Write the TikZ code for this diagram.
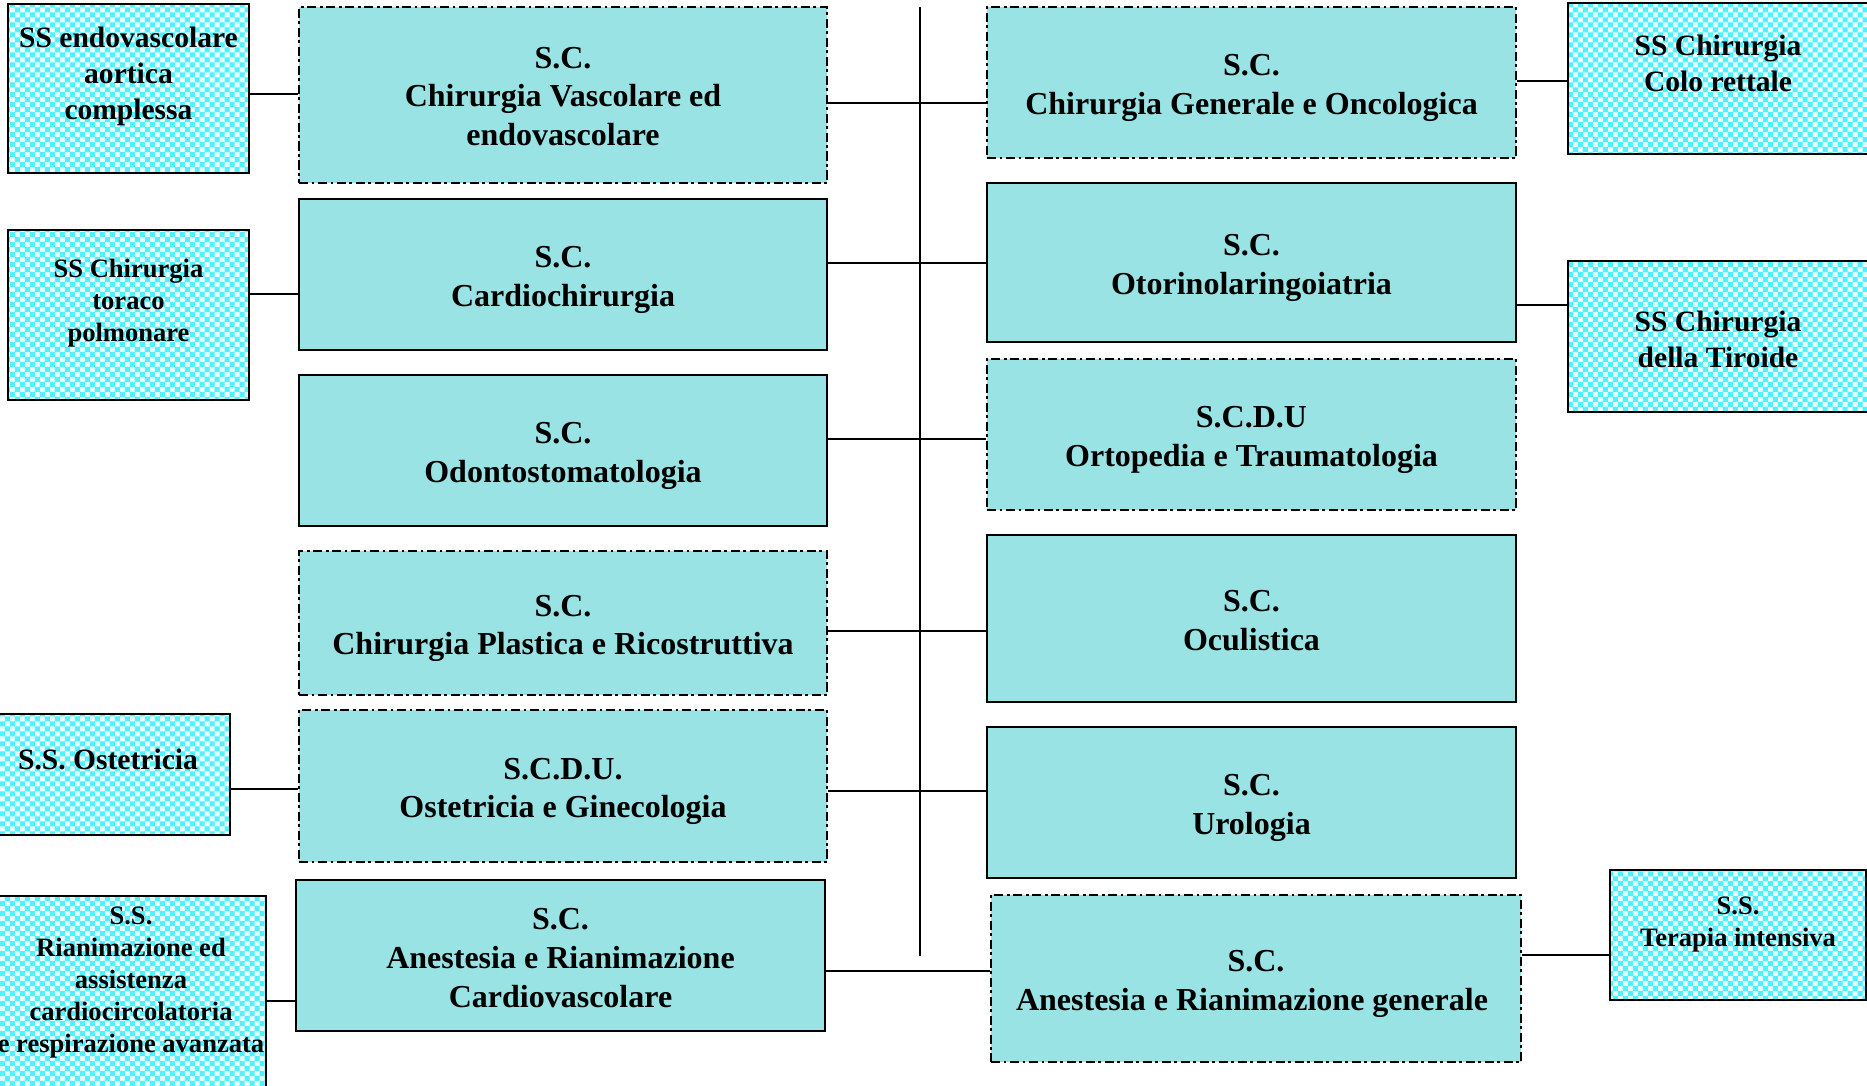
\documentclass[tikz,border=0pt]{standalone}
\usepackage{fontspec}
\setmainfont{Liberation Serif}
\usetikzlibrary{patterns}
\definecolor{sctea}{RGB}{153,227,228}
\definecolor{sscyan}{RGB}{80,242,255}
\definecolor{sslight}{RGB}{232,253,255}
\pgfdeclarepatternformonly{finechecks}{\pgfqpoint{-0.5pt}{-0.5pt}}{\pgfqpoint{3.4pt}{3.4pt}}{\pgfqpoint{2.84pt}{2.84pt}}{%
  \pgfpathrectangle{\pgfqpoint{0pt}{0pt}}{\pgfqpoint{1.42pt}{1.42pt}}%
  \pgfpathrectangle{\pgfqpoint{1.42pt}{1.42pt}}{\pgfqpoint{1.42pt}{1.42pt}}%
  \pgfusepath{fill}}
\newcommand{\lift}{\rule[-0.30cm]{0pt}{0pt}}
\newcommand{\drop}{\rule{0pt}{0.32cm}}

\begin{document}
\begin{tikzpicture}[x=0.01cm,y=-0.01cm,
    sc/.style={draw,line width=0.7pt,fill=sctea,align=center,inner sep=0pt,
      font=\fontsize{9.1}{11}\selectfont\bfseries},
    scdash/.style={sc,dash pattern=on 2.6pt off 1pt on 0.8pt off 1pt},
    ss/.style={draw,line width=0.7pt,preaction={fill=sslight},pattern=finechecks,
      pattern color=sscyan,align=center,inner sep=0pt,
      font=\fontsize{8.4}{10.2}\selectfont\bfseries},
    sssmall/.style={ss,font=\fontsize{7.55}{9.1}\selectfont\bfseries},
    link/.style={line width=0.6pt}]
   \clip (0,0) rectangle (1867,1086);
   \fill[white] (0,0) rectangle (1867,1086);
   % left column
   \node[ss,minimum width=2.41cm,minimum height=1.69cm] (endo) at (128.5,88.5)
     {SS endovascolare\\aortica\\complessa\lift};
   \node[sssmall,minimum width=2.41cm,minimum height=1.70cm] (toraco) at (128.5,315)
     {SS Chirurgia\\toraco\\polmonare\lift};
   \node[ss,minimum width=2.44cm,minimum height=1.21cm] (ssoste) at (108,774.5)
     {S.S. Ostetricia\lift};
   \node[sssmall,minimum width=2.70cm,minimum height=1.98cm] (ssrian) at (131,995)
     {S.S.\\Rianimazione ed\\assistenza\\cardiocircolatoria\\e respirazione avanzata\lift};
   % centre left
   \node[scdash,minimum width=5.28cm,minimum height=1.76cm] (vasc) at (563,95)
     {\rule{0pt}{0.24cm}S.C.\\Chirurgia Vascolare ed\\endovascolare};
   \node[sc,minimum width=5.28cm,minimum height=1.51cm] (cardio) at (563,274.5)
     {\drop S.C.\\Cardiochirurgia};
   \node[sc,minimum width=5.28cm,minimum height=1.51cm] (odonto) at (563,450.5)
     {\drop S.C.\\Odontostomatologia};
   \node[scdash,minimum width=5.28cm,minimum height=1.44cm] (plast) at (563,623)
     {\drop S.C.\\Chirurgia Plastica e Ricostruttiva};
   \node[scdash,minimum width=5.28cm,minimum height=1.52cm] (ostgin) at (563,786)
     {\drop S.C.D.U.\\Ostetricia e Ginecologia};
   \node[sc,minimum width=5.29cm,minimum height=1.51cm] (anecv) at (560.5,955.5)
     {\rule{0pt}{0.26cm}S.C.\\Anestesia e Rianimazione\\Cardiovascolare};
   % centre right
   \node[scdash,minimum width=5.29cm,minimum height=1.51cm] (gen) at (1251.5,82.5)
     {\drop S.C.\\Chirurgia Generale e Oncologica};
   \node[sc,minimum width=5.29cm,minimum height=1.59cm] (orl) at (1251.5,262.5)
     {\drop S.C.\\Otorinolaringoiatria};
   \node[scdash,minimum width=5.29cm,minimum height=1.51cm] (orto) at (1251.5,434.5)
     {\drop S.C.D.U\\Ortopedia e Traumatologia};
   \node[sc,minimum width=5.29cm,minimum height=1.67cm] (ocul) at (1251.5,618.5)
     {\rule{0pt}{0.26cm}S.C.\\Oculistica};
   \node[sc,minimum width=5.29cm,minimum height=1.51cm] (uro) at (1251.5,802.5)
     {\drop S.C.\\Urologia};
   \node[scdash,minimum width=5.30cm,minimum height=1.67cm] (anegen) at (1256,978.5)
     {\drop S.C.\\Anestesia e Rianimazione generale\hspace*{0.08cm}};
   % right column
   \node[ss,minimum width=3.00cm,minimum height=1.51cm] (colo) at (1718,78.5)
     {SS Chirurgia\\Colo rettale\lift};
   \node[ss,minimum width=3.00cm,minimum height=1.51cm] (tiro) at (1718,336.5)
     {\rule{0pt}{0.27cm}SS Chirurgia\\della Tiroide};
   \node[sssmall,minimum width=2.56cm,minimum height=1.30cm] (terap) at (1738,935)
     {S.S.\\Terapia intensiva\rule[-0.26cm]{0pt}{0pt}};

   \coordinate (spinetop) at (920,7);
   \coordinate (spinebot) at (920,956);
   \draw[link] (spinetop) -- (spinebot);

   \draw[link] (endo.east |- 0,94) -- (vasc.west |- 0,94);
   \draw[link] (toraco.east |- 0,294) -- (cardio.west |- 0,294);
   \draw[link] (ssoste.east |- 0,789) -- (ostgin.west |- 0,789);
   \draw[link] (ssrian.east |- 0,1001) -- (anecv.west |- 0,1001);
   \draw[link] (vasc.east |- 0,103) -- (gen.west |- 0,103);
   \draw[link] (cardio.east |- 0,263) -- (orl.west |- 0,263);
   \draw[link] (odonto.east |- 0,439) -- (orto.west |- 0,439);
   \draw[link] (plast.east |- 0,631) -- (ocul.west |- 0,631);
   \draw[link] (ostgin.east |- 0,791) -- (uro.west |- 0,791);
   \draw[link] (anecv.east |- 0,971) -- (anegen.west |- 0,971);
   \draw[link] (gen.east |- 0,81) -- (colo.west |- 0,81);
   \draw[link] (orl.east |- 0,305) -- (tiro.west |- 0,305);
   \draw[link] (anegen.east |- 0,955) -- (terap.west |- 0,955);
\end{tikzpicture}
\end{document}
